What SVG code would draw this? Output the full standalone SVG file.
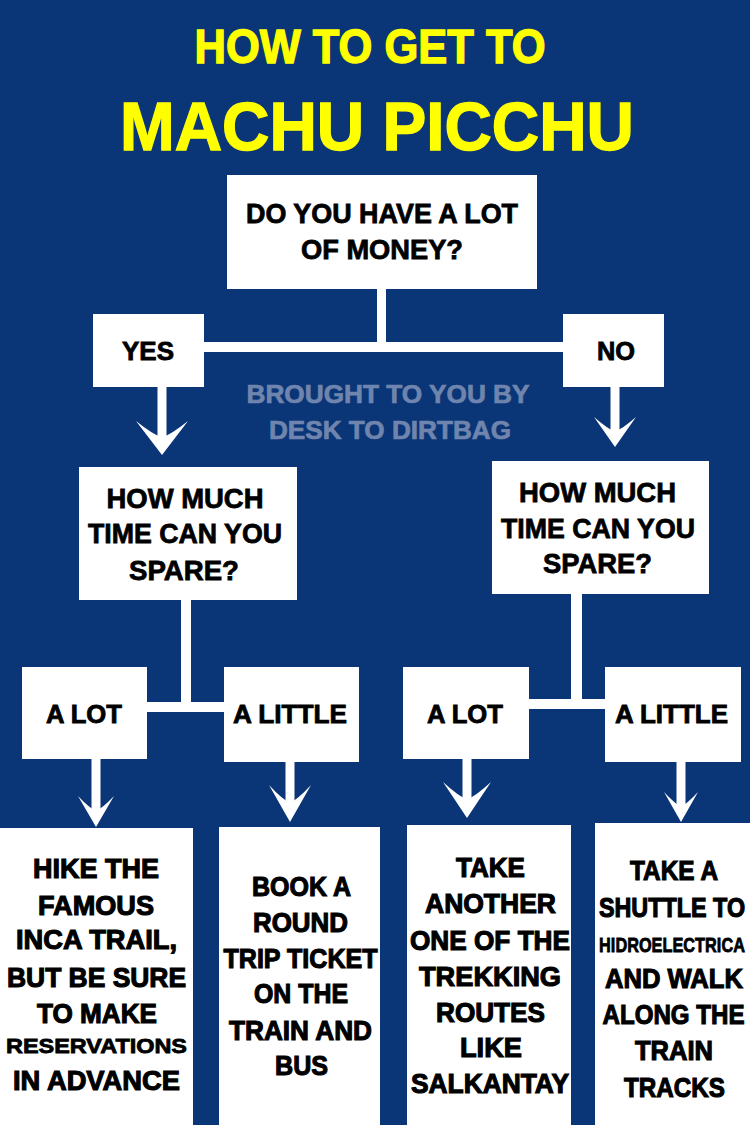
<svg xmlns="http://www.w3.org/2000/svg" width="750" height="1125" viewBox="0 0 750 1125">
<defs>
<style>
.bg{fill:#0a3577}
.box{fill:#ffffff}
.ttl{font-family:"Liberation Sans",Arial,sans-serif;font-weight:bold;fill:#ffff00;stroke:#ffff00;stroke-width:1.4;text-anchor:middle}
.q{font-family:"Liberation Sans",Arial,sans-serif;font-weight:bold;font-size:28px;fill:#000;stroke:#000;stroke-width:0.8;text-anchor:middle}
.lbl{font-family:"Liberation Sans",Arial,sans-serif;font-weight:bold;font-size:25px;fill:#000;stroke:#000;stroke-width:0.8;text-anchor:middle}
.ans{font-family:"Liberation Sans",Arial,sans-serif;font-weight:bold;font-size:27px;fill:#000;stroke:#000;stroke-width:1.1;text-anchor:middle}
.ans2{font-family:"Liberation Sans",Arial,sans-serif;font-weight:bold;font-size:21px;fill:#000;stroke:#000;stroke-width:0.8;text-anchor:middle}
.wm{font-family:"Liberation Sans",Arial,sans-serif;font-weight:bold;font-size:25px;fill:#6f85ad;stroke:#6f85ad;stroke-width:0.7;text-anchor:middle}
.ln{fill:#ffffff}
</style>
<path id="head" d="M0 0 L-1 -1 Q-0.35 -0.6 0 -0.52 Q0.35 -0.6 1 -1 Z" fill="#ffffff"/>
</defs>
<rect class="bg" x="0" y="0" width="750" height="1125"/>

<g id="title">
<text class="ttl" x="370" y="63" font-size="48" textLength="351" lengthAdjust="spacingAndGlyphs">HOW TO GET TO</text>
<text class="ttl" x="377" y="150" font-size="69" textLength="514" lengthAdjust="spacingAndGlyphs">MACHU PICCHU</text>
</g>

<g id="watermark">
<text class="wm" x="388" y="403" textLength="283" lengthAdjust="spacingAndGlyphs">BROUGHT TO YOU BY</text>
<text class="wm" x="390" y="439" textLength="242" lengthAdjust="spacingAndGlyphs">DESK TO DIRTBAG</text>
</g>

<g id="connectors">
<rect class="ln" x="377" y="289" width="9" height="63"/>
<rect class="ln" x="204" y="342" width="359" height="10"/>
<rect class="ln" x="181" y="600" width="10" height="112"/>
<rect class="ln" x="147" y="702" width="77" height="10"/>
<rect class="ln" x="571" y="593" width="11" height="116"/>
<rect class="ln" x="529" y="699" width="76" height="10"/>
<rect class="ln" x="157.5" y="387" width="9" height="52"/>
<use href="#head" transform="translate(162,455) scale(26,34)"/>
<rect class="ln" x="610.5" y="387" width="9" height="45"/>
<use href="#head" transform="translate(615,447) scale(21,30)"/>
<rect class="ln" x="91.5" y="759" width="9" height="56"/>
<use href="#head" transform="translate(96,827) scale(18,31)"/>
<rect class="ln" x="285.5" y="762" width="9" height="46"/>
<use href="#head" transform="translate(290,822) scale(21,37)"/>
<rect class="ln" x="462.5" y="759" width="9" height="45"/>
<use href="#head" transform="translate(467,818) scale(24,36)"/>
<rect class="ln" x="676.5" y="762" width="9" height="47"/>
<use href="#head" transform="translate(681,822) scale(17,30)"/>
</g>

<g id="q-money">
<rect class="box" x="227" y="175" width="310" height="114"/>
<text class="q" x="382" y="223" textLength="272" lengthAdjust="spacingAndGlyphs">DO YOU HAVE A LOT</text>
<text class="q" x="382" y="259" textLength="162" lengthAdjust="spacingAndGlyphs">OF MONEY?</text>
</g>

<g id="yes">
<rect class="box" x="93" y="314" width="111" height="73"/>
<text class="lbl" x="148" y="360" textLength="52" lengthAdjust="spacingAndGlyphs">YES</text>
</g>

<g id="no">
<rect class="box" x="563" y="314" width="101" height="73"/>
<text class="lbl" x="616" y="360" textLength="38" lengthAdjust="spacingAndGlyphs">NO</text>
</g>

<g id="q-time-left">
<rect class="box" x="79" y="467" width="218" height="133"/>
<text class="q" x="185" y="508" textLength="157" lengthAdjust="spacingAndGlyphs">HOW MUCH</text>
<text class="q" x="185" y="543" textLength="194" lengthAdjust="spacingAndGlyphs">TIME CAN YOU</text>
<text class="q" x="184" y="580" textLength="110" lengthAdjust="spacingAndGlyphs">SPARE?</text>
</g>

<g id="q-time-right">
<rect class="box" x="492" y="461" width="217" height="133"/>
<text class="q" x="597.5" y="502" textLength="157" lengthAdjust="spacingAndGlyphs">HOW MUCH</text>
<text class="q" x="598" y="538" textLength="194" lengthAdjust="spacingAndGlyphs">TIME CAN YOU</text>
<text class="q" x="597.5" y="573" textLength="109" lengthAdjust="spacingAndGlyphs">SPARE?</text>
</g>

<g id="a-lot-left">
<rect class="box" x="22" y="667" width="125" height="92"/>
<text class="lbl" x="84" y="723" textLength="76" lengthAdjust="spacingAndGlyphs">A LOT</text>
</g>
<g id="a-little-left">
<rect class="box" x="224" y="667" width="135" height="95"/>
<text class="lbl" x="290" y="723" textLength="114" lengthAdjust="spacingAndGlyphs">A LITTLE</text>
</g>
<g id="a-lot-right">
<rect class="box" x="403" y="667" width="126" height="92"/>
<text class="lbl" x="465" y="723" textLength="76" lengthAdjust="spacingAndGlyphs">A LOT</text>
</g>
<g id="a-little-right">
<rect class="box" x="605" y="667" width="136" height="95"/>
<text class="lbl" x="671.5" y="723" textLength="113" lengthAdjust="spacingAndGlyphs">A LITTLE</text>
</g>

<g id="r-inca">
<rect class="box" x="0" y="828" width="193" height="297"/>
<text class="ans" x="96" y="878" textLength="126" lengthAdjust="spacingAndGlyphs">HIKE THE</text>
<text class="ans" x="96" y="915" textLength="116" lengthAdjust="spacingAndGlyphs">FAMOUS</text>
<text class="ans" x="96.5" y="949" textLength="161" lengthAdjust="spacingAndGlyphs">INCA TRAIL,</text>
<text class="ans" x="96.5" y="987" textLength="179" lengthAdjust="spacingAndGlyphs">BUT BE SURE</text>
<text class="ans" x="97" y="1023" textLength="120" lengthAdjust="spacingAndGlyphs">TO MAKE</text>
<text class="ans2" x="96.5" y="1053" textLength="181" lengthAdjust="spacingAndGlyphs">RESERVATIONS</text>
<text class="ans" x="96.5" y="1090" textLength="167" lengthAdjust="spacingAndGlyphs">IN ADVANCE</text>
</g>

<g id="r-train">
<rect class="box" x="219" y="827" width="161" height="298"/>
<text class="ans" x="301.5" y="896" textLength="99" lengthAdjust="spacingAndGlyphs">BOOK A</text>
<text class="ans" x="300.5" y="932" textLength="95" lengthAdjust="spacingAndGlyphs">ROUND</text>
<text class="ans" x="300.5" y="968" textLength="154" lengthAdjust="spacingAndGlyphs">TRIP TICKET</text>
<text class="ans" x="301" y="1003" textLength="94" lengthAdjust="spacingAndGlyphs">ON THE</text>
<text class="ans" x="300.5" y="1040" textLength="143" lengthAdjust="spacingAndGlyphs">TRAIN AND</text>
<text class="ans" x="301.5" y="1075" textLength="53" lengthAdjust="spacingAndGlyphs">BUS</text>
</g>

<g id="r-salkantay">
<rect class="box" x="407" y="825" width="164" height="300"/>
<text class="ans" x="490.5" y="877" textLength="69" lengthAdjust="spacingAndGlyphs">TAKE</text>
<text class="ans" x="490.5" y="913" textLength="131" lengthAdjust="spacingAndGlyphs">ANOTHER</text>
<text class="ans" x="490" y="950" textLength="160" lengthAdjust="spacingAndGlyphs">ONE OF THE</text>
<text class="ans" x="490" y="986" textLength="142" lengthAdjust="spacingAndGlyphs">TREKKING</text>
<text class="ans" x="490.5" y="1022" textLength="109" lengthAdjust="spacingAndGlyphs">ROUTES</text>
<text class="ans" x="491" y="1057" textLength="62" lengthAdjust="spacingAndGlyphs">LIKE</text>
<text class="ans" x="490" y="1093" textLength="158" lengthAdjust="spacingAndGlyphs">SALKANTAY</text>
</g>

<g id="r-hidroelectrica">
<rect class="box" x="595" y="823" width="155" height="302"/>
<text class="ans" x="674" y="880" textLength="88" lengthAdjust="spacingAndGlyphs">TAKE A</text>
<text class="ans" transform="translate(672,917) scale(0.85,1)" x="0" y="0" textLength="172" lengthAdjust="spacingAndGlyphs">SHUTTLE TO</text>
<text class="ans2" transform="translate(672,952) scale(0.78,1)" x="0" y="0" textLength="187" lengthAdjust="spacingAndGlyphs">HIDROELECTRICA</text>
<text class="ans" x="674" y="988" textLength="138" lengthAdjust="spacingAndGlyphs">AND WALK</text>
<text class="ans" transform="translate(673.5,1024) scale(0.89,1)" x="0" y="0" textLength="159.5" lengthAdjust="spacingAndGlyphs">ALONG THE</text>
<text class="ans" x="674" y="1060" textLength="78" lengthAdjust="spacingAndGlyphs">TRAIN</text>
<text class="ans" x="674.5" y="1097" textLength="101" lengthAdjust="spacingAndGlyphs">TRACKS</text>
</g>
</svg>
